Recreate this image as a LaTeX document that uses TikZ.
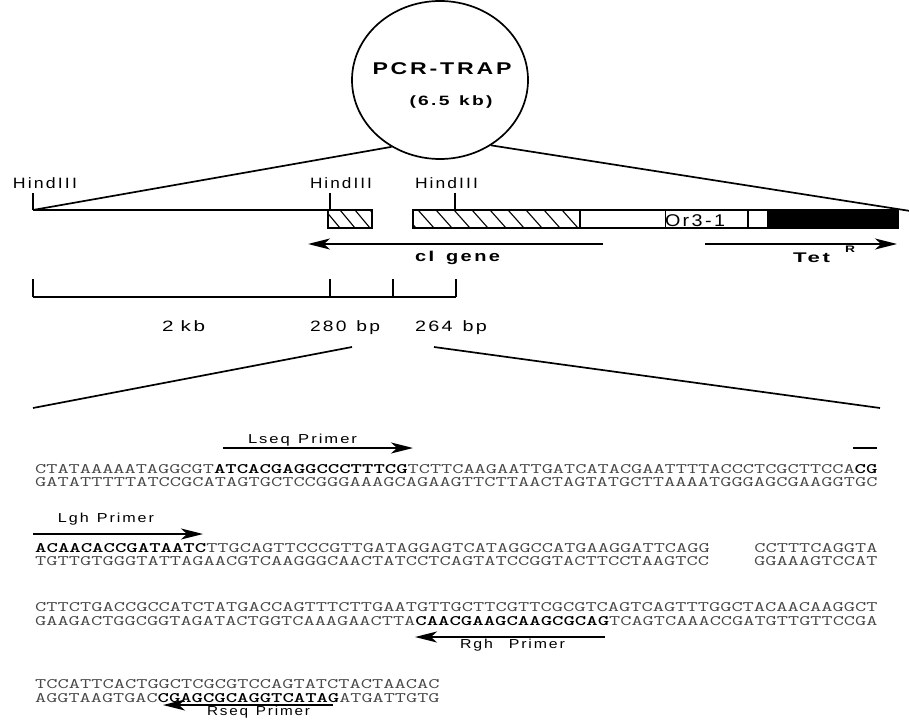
\documentclass[tikz,border=0pt]{standalone}
\usepackage{fontspec}
\usepackage{graphicx}
\usetikzlibrary{arrows.meta,shapes.geometric}
\setmainfont{Liberation Sans}
\newfontfamily\labf[LetterSpace=12]{Liberation Sans}
\newcommand\fitw[2]{\resizebox{#1pt}{\height}{#2}}
\newcommand\bs[1]{{\color{black}\bfseries #1}}
\tikzset{
  lab/.style={inner sep=0pt, anchor=base},
  seq/.style={inner sep=0pt, anchor=base west, text=black!72, font=\ttfamily\fontsize{14.5}{14.5}\selectfont},
  thick line/.style={line width=1.7pt},
  arr/.style={line width=1.8pt, -{Stealth[length=22pt,width=11pt,inset=6pt]}},
  hatch/.style={line width=1.1pt},
  boxline/.style={line width=1.5pt},
}
\begin{document}
\begin{tikzpicture}[x=1pt,y=-1pt]
\useasboundingbox (0,0) rectangle (909,727);
\fill[white] (0,0) rectangle (909,727);

% plasmid circle
\node[draw, ellipse, line width=1.7pt, minimum width=176pt, minimum height=158pt, inner sep=0pt] (pcr) at (440,80) {};
\node[lab, font=\labf\bfseries\fontsize{17}{17}\selectfont] (pcrt) at (442,75) {\fitw{139}{PCR-TRAP}};
\node[lab, font=\labf\bfseries\fontsize{13.5}{14}\selectfont] (pcrs) at (451,106) {\fitw{83}{(6.5\hspace{0.5em}kb)}};

% map coordinates
\coordinate (hL) at (33,210);
\coordinate (hLt) at (33,193);
\coordinate (hM) at (330,210);
\coordinate (hMt) at (330,193);
\coordinate (hR) at (455,210);
\coordinate (hRt) at (455,193);
\coordinate (b1a) at (328,210);
\coordinate (endR) at (909,210.8);

% lines from circle
\draw[thick line] (hL) -- (pcr.234);
\draw[thick line] (pcr.308) -- (endR);

% main line and ticks
\draw[thick line] (hL) -- (b1a);
\draw[boxline] (hLt) -- (hL);
\draw[boxline] (hMt) -- (hM);
\draw[boxline] (hRt) -- (hR);

% hatched box 1
\begin{scope}
\clip (328,210) rectangle (372,228);
\foreach \x in {310,325,...,380} \draw[hatch] (\x,210) -- ({\x+15},228);
\end{scope}
\draw[boxline] (328,210) rectangle (372,228);

% box 2
\begin{scope}
\clip (413,210) rectangle (580,228);
\foreach \x in {400,418,...,590} \draw[hatch] (\x,210) -- ({\x+16},228);
\end{scope}
\fill[black] (768,210) rectangle (898,228);
\draw[boxline] (413,210) rectangle (898,228);
\draw[boxline] (580,210) -- (580,228);
\draw[line width=0.9pt] (665,210) -- (665,228);
\draw[boxline] (748,210) -- (748,228);
\draw[boxline] (768,210) -- (768,228);

\node[lab, font=\labf\fontsize{15}{15}\selectfont] (h1) at (45,189) {\fitw{64}{HindIII}};
\node[lab, font=\labf\fontsize{15}{15}\selectfont] (h2) at (341,189) {\fitw{62}{HindIII}};
\node[lab, font=\labf\fontsize{15}{15}\selectfont] (h3) at (446.5,189) {\fitw{63}{HindIII}};
\node[lab, font=\labf\fontsize{17}{17}\selectfont] (or) at (695,226) {\fitw{60}{Or3-1}};

% gene arrows
\coordinate (cIa) at (603,244);
\coordinate (cIb) at (308,244);
\coordinate (teta) at (705,244);
\coordinate (tetb) at (897,244);
\draw[arr] (cIa) -- (cIb);
\draw[arr] (teta) -- (tetb);
\node[lab, font=\labf\bfseries\fontsize{15}{15}\selectfont] (cI) at (457.5,261) {\fitw{85}{cI\hspace{0.6em}gene}};
\node[lab, font=\labf\bfseries\fontsize{14}{14}\selectfont] (tet) at (811.5,262) {\fitw{37}{Tet}};
\node[lab, font=\labf\bfseries\fontsize{9.5}{10}\selectfont] (tetR) at (850,252) {\fitw{10}{R}};

% scale bar
\coordinate (s0) at (33,297);
\coordinate (s1) at (330,297);
\coordinate (s2) at (393,297);
\coordinate (s3) at (456,297);
\draw[boxline] (s0) -- (s3);
\foreach \p in {s0,s1,s2,s3} \draw[boxline] (\p) -- ++(0,-18);
\node[lab, font=\labf\fontsize{15}{15}\selectfont] (k2) at (183.5,331) {\fitw{43}{2\hspace{0.35em}kb}};
\node[lab, font=\labf\fontsize{15}{15}\selectfont] (b280) at (345,331) {\fitw{70}{280\hspace{0.5em}bp}};
\node[lab, font=\labf\fontsize{15}{15}\selectfont] (b264) at (451,331) {\fitw{72}{264\hspace{0.5em}bp}};

% expansion lines
\coordinate (eL1) at (352,347);
\coordinate (eL2) at (33,408);
\coordinate (eR1) at (434,347);
\coordinate (eR2) at (880,408);
\draw[thick line] (eL1) -- (eL2);
\draw[thick line] (eR1) -- (eR2);

% primers
\coordinate (lsa) at (223,448);
\coordinate (lsb) at (413,448);
\draw[arr] (lsa) -- (lsb);
\node[lab, font=\labf\fontsize{13}{13}\selectfont] (lsl) at (302.5,443) {\fitw{109}{Lseq\hspace{0.5em}Primer}};
\coordinate (bara) at (853,448);
\coordinate (barb) at (877,448);
\draw[line width=1.8pt] (bara) -- (barb);

\coordinate (lga) at (33,534);
\coordinate (lgb) at (203,534);
\draw[arr] (lga) -- (lgb);
\node[lab, font=\labf\fontsize{13}{13}\selectfont] (lgl) at (106,522) {\fitw{96}{Lgh\hspace{0.5em}Primer}};

\coordinate (rga) at (605,637);
\coordinate (rgb) at (415,637);
\draw[arr] (rga) -- (rgb);
\node[lab, font=\labf\fontsize{13}{13}\selectfont] (rgl) at (512.5,648) {\fitw{105}{Rgh\hspace{1em}Primer}};

\coordinate (rsa) at (333,705);
\coordinate (rsb) at (163,705);
\draw[arr] (rsa) -- (rsb);
\node[lab, font=\labf\fontsize{13}{13}\selectfont] (rsl) at (258.5,715) {\fitw{103}{Rseq\hspace{0.5em}Primer}};

% sequences
\node[seq] (r1a) at (35,473) {\fitw{842.3}{CTATAAAAATAGGCGT\bs{ATCACGAGGCCCTTTCG}TCTTCAAGAATTGATCATACGAATTTTACCCTCGCTTCCA\bs{CG}}};
\node[seq] (r1b) at (35,486) {\fitw{842.3}{GATATTTTTATCCGCATAGTGCTCCGGGAAAGCAGAAGTTCTTAACTAGTATGCTTAAAATGGGAGCGAAGGTGC}};
\node[seq] (r2a) at (35,552) {\fitw{842.3}{\bs{ACAACACCGATAATC}TTGCAGTTCCCGTTGATAGGAGTCATAGGCCATGAAGGATTCAGG\phantom{CCCC}CCTTTCAGGTA}};
\node[seq] (r2b) at (35,565) {\fitw{842.3}{TGTTGTGGGTATTAGAACGTCAAGGGCAACTATCCTCAGTATCCGGTACTTCCTAAGTCC\phantom{CCCC}GGAAAGTCCAT}};
\node[seq] (r3a) at (35,611) {\fitw{842.3}{CTTCTGACCGCCATCTATGACCAGTTTCTTGAATGTTGCTTCGTTCGCGTCAGTCAGTTTGGCTACAACAAGGCT}};
\node[seq] (r3b) at (35,625) {\fitw{842.3}{GAAGACTGGCGGTAGATACTGGTCAAAGAACTTA\bs{CAACGAAGCAAGCGCAG}TCAGTCAAACCGATGTTGTTCCGA}};
\node[seq] (r4a) at (35,688) {\fitw{404.3}{TCCATTCACTGGCTCGCGTCCAGTATCTACTAACAC}};
\node[seq] (r4b) at (35,702) {\fitw{404.3}{AGGTAAGTGAC\bs{CGAGCGCAGGTCATAG}ATGATTGTG}};
\end{tikzpicture}
\end{document}
